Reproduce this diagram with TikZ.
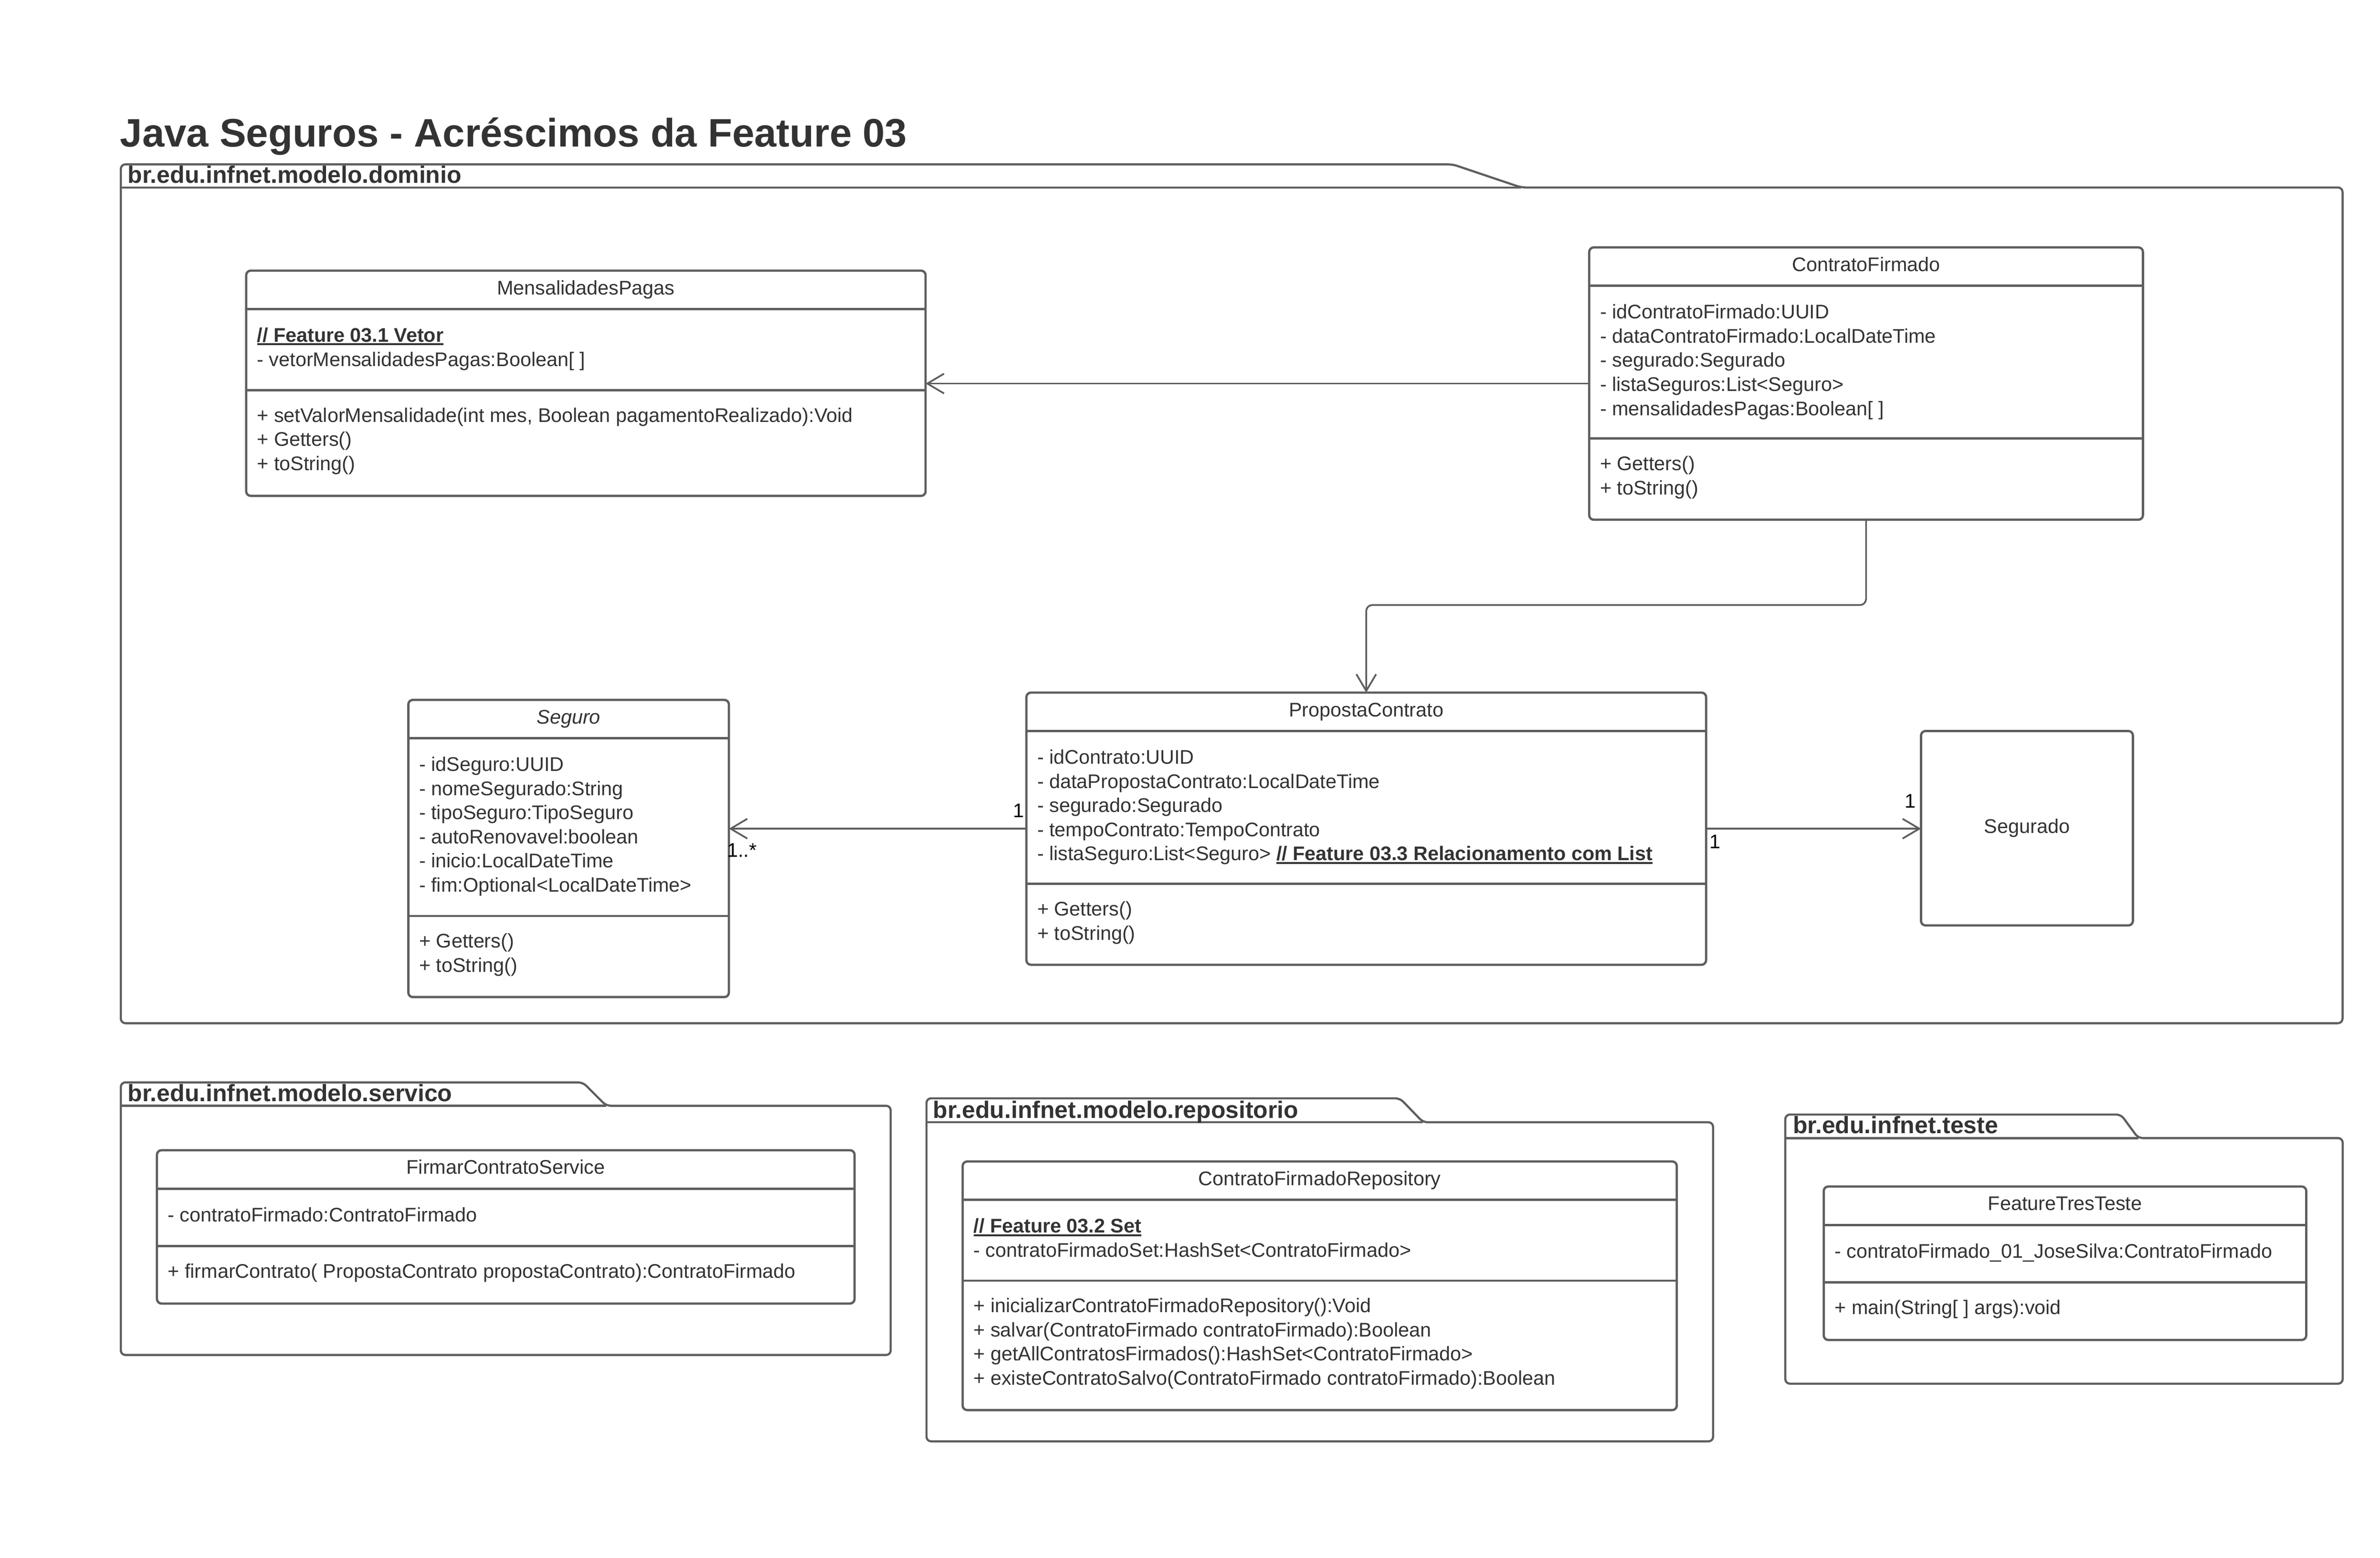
\documentclass[tikz,border=0pt]{standalone}
\usepackage{fontspec}
\setmainfont{Liberation Sans}
\usetikzlibrary{arrows.meta,calc}
\definecolor{lc}{HTML}{5E5E5E}
\definecolor{tc}{HTML}{333333}
\newcommand\ulx[1]{\setbox0=\hbox{#1}\rlap{\rule[-2.2pt]{\wd0}{1.3pt}}\box0}
\tikzset{
 cbox/.style={draw=lc, line width=1.5pt, rounded corners=3pt, inner sep=0pt, outer sep=0pt, anchor=north west},
 cdiv/.style={draw=lc, line width=1.5pt},
 htxt/.style={anchor=base, inner sep=0pt, text=tc, font=\fontsize{13}{15.9}\selectfont},
 ltxt/.style={anchor=base west, inner sep=0pt, text=tc, font=\fontsize{13}{15.9}\selectfont},
 mult/.style={anchor=base west, inner sep=0pt, text=black, font=\fontsize{13}{15.9}\selectfont},
 pkgline/.style={draw=lc, line width=1.4pt, rounded corners=3pt},
 pkglbl/.style={anchor=base west, inner sep=0pt, text=tc, font=\fontsize{15.7}{18}\selectfont\bfseries},
 assoc/.style={draw=lc, line width=1.15pt, -{Straight Barb[length=11pt,width=13pt]}},
}
% name, x, y, w, h, attr-divider offset, header, attributes, methods
\newcommand\umlclass[9]{%
 \node[cbox, minimum width=#4pt, minimum height=#5pt] (#1) at (#2,#3) {};
 \draw[cdiv] ([yshift=-25.3pt]#1.north west) -- ([yshift=-25.3pt]#1.north east);
 \draw[cdiv] ([yshift=-#6pt]#1.north west) -- ([yshift=-#6pt]#1.north east);
 \node[htxt] (#1-h) at ([yshift=-15.8pt]#1.north) {#7};
 \foreach \lbl [count=\nn] in {#8} {\node[ltxt] (#1-a\nn) at ([xshift=7pt,yshift={-(47+(\nn-1)*15.9)*1pt}]#1.north west) {\lbl};}
 \foreach \lbl [count=\nn] in {#9} {\node[ltxt] (#1-m\nn) at ([xshift=7pt,yshift={-(#6+21+(\nn-1)*15.9)*1pt}]#1.north west) {\lbl};}
}
% left, tab top, tab corner x, slant end x, body top, right, bottom
\newcommand\pkgshape[7]{%
 \draw[pkgline] (#1,#7) -- (#1,#2) -- (#3,#2) -- (#4,#5) -- (#6,#5) -- (#6,#7) -- cycle;
 \draw[pkgline] (#1,#5) -- (#4,#5);
}
\begin{document}
\begin{tikzpicture}[x=1pt,y=-1pt]
\useasboundingbox (0,0) rectangle (1568,1026.2);
\fill[white] (0,0) rectangle (1568,1026.2);

\node[anchor=base west, inner sep=0pt, text=tc, font=\fontsize{26.2}{30}\selectfont\bfseries] (title) at (79,96.8) {Java Seguros - Acréscimos da Feature 03};

% packages
\pkgshape{79.6}{108.3}{957.1}{1002.2}{123.5}{1543.3}{674.1}
\node[pkglbl] (p-dom) at (84,120.7) {br.edu.infnet.modelo.dominio};
\pkgshape{79.6}{713.1}{384}{399.4}{728.5}{586.8}{892.7}
\node[pkglbl] (p-serv) at (84,725.8) {br.edu.infnet.modelo.servico};
\pkgshape{610.4}{723.6}{922.3}{937.6}{739.4}{1128.6}{949.6}
\node[pkglbl] (p-rep) at (614.5,736.6) {br.edu.infnet.modelo.repositorio};
\pkgshape{1176.2}{734.3}{1397.3}{1408.7}{749.8}{1543.4}{911.6}
\node[pkglbl] (p-tst) at (1181,746.7) {br.edu.infnet.teste};

% classes
\umlclass{mp}{162.2}{178.3}{447.6}{148.4}{78.8}{MensalidadesPagas}
 {{\ulx{\bfseries // Feature 03.1 Vetor}},{- vetorMensalidadesPagas:Boolean[ ]}}
 {{+ setValorMensalidade(int mes, Boolean pagamentoRealizado):Void},{+ Getters()},{+ toString()}}

\umlclass{cf}{1047}{163}{364.8}{179.4}{125.9}{ContratoFirmado}
 {{- idContratoFirmado:UUID},{- dataContratoFirmado:LocalDateTime},{- segurado:Segurado},{- listaSeguros:List<Seguro>},{- mensalidadesPagas:Boolean[ ]}}
 {{+ Getters()},{+ toString()}}

\umlclass{pc}{676.2}{456.3}{447.8}{179.3}{126}{PropostaContrato}
 {{- idContrato:UUID},{- dataPropostaContrato:LocalDateTime},{- segurado:Segurado},{- tempoContrato:TempoContrato},{- listaSeguro:List<Seguro> \ulx{\bfseries // Feature 03.3 Relacionamento com List}}}
 {{+ Getters()},{+ toString()}}

\umlclass{seg}{269}{461.1}{211.2}{195.8}{142.4}{\itshape Seguro}
 {{- idSeguro:UUID},{- nomeSegurado:String},{- tipoSeguro:TipoSeguro},{- autoRenovavel:boolean},{- inicio:LocalDateTime},{- fim:Optional<LocalDateTime>}}
 {{+ Getters()},{+ toString()}}

\node[cbox, minimum width=139.6pt, minimum height=128.1pt, text=tc, font=\fontsize{13}{15.9}\selectfont] (sgd) at (1265.6,481.6) {Segurado};

\umlclass{fcs}{103.4}{757.8}{459.6}{101}{63.2}{FirmarContratoService}
 {{- contratoFirmado:ContratoFirmado}}
 {{+ firmarContrato( PropostaContrato propostaContrato):ContratoFirmado}}

\umlclass{cfr}{634.2}{765.2}{470.5}{163.8}{78.5}{ContratoFirmadoRepository}
 {{\ulx{\bfseries // Feature 03.2 Set}},{- contratoFirmadoSet:HashSet<ContratoFirmado>}}
 {{+ inicializarContratoFirmadoRepository():Void},{+ salvar(ContratoFirmado contratoFirmado):Boolean},{+ getAllContratosFirmados():HashSet<ContratoFirmado>},{+ existeContratoSalvo(ContratoFirmado contratoFirmado):Boolean}}

\umlclass{ftt}{1201.5}{781.7}{317.9}{101.1}{63.2}{FeatureTresTeste}
 {{- contratoFirmado\_01\_JoseSilva:ContratoFirmado}}
 {{+ main(String[ ] args):void}}

% connectors
\draw[assoc] (cf.west) -- (cf.west -| mp.east);
\draw[assoc, rounded corners=4pt] (cf.south) -- ++(0,56.2) -| (pc.north);
\draw[assoc] (pc.west) -- (pc.west -| seg.east);
\draw[assoc] (pc.east) -- (pc.east -| sgd.west);

% multiplicities
\node[mult] (m-pc-l) at (667.4,538.4) {1};
\node[mult] (m-seg) at (478.8,564.6) {1..*};
\node[mult] (m-pc-r) at (1126.1,559) {1};
\node[mult] (m-sgd) at (1254.8,532.4) {1};
\end{tikzpicture}
\end{document}
